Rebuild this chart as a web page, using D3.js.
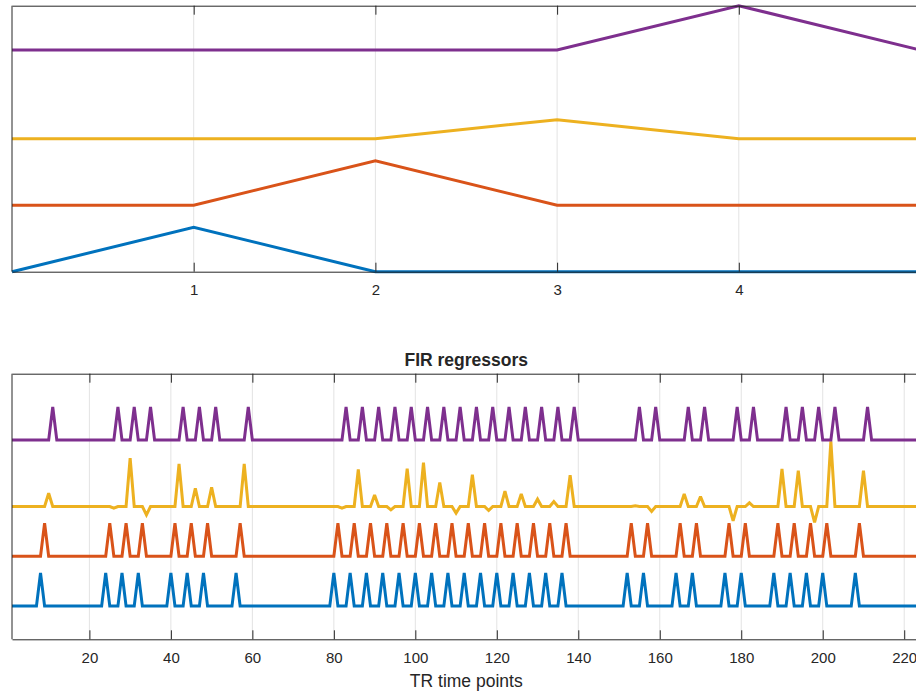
<!DOCTYPE html>
<html>
<head>
<meta charset="utf-8">
<script src="https://cdn.jsdelivr.net/npm/d3@7"></script>
<style>
  html, body { margin: 0; padding: 0; background: #fff; }
  svg { display: block; }
  text { font-family: "Liberation Sans", Arial, Helvetica, sans-serif; fill: #262626; }
</style>
</head>
<body>
<svg id="chart" width="916" height="693"></svg>
<script>
// ---------- DATA ----------
const colors = ["#0072BD", "#D95319", "#EDB120", "#7E2F8E"];
const seriesOffsets = [0, 1.5, 3, 5];

// Top panel: FIR bin estimates
const topX = [0, 1, 2, 3, 4, 5];
const topBlue   = [0, 1, 0, 0, 0, 0];
const topOrange = [0, 0, 1, 0, 0, 0];
const topYellow = [0, 0, 0, 0.43, 0, 0];
const topPurple = [0, 0, 0, 0, 1, 0];
const topTicks = [1, 2, 3, 4];

// Bottom panel: FIR regressors over TR time points (spike onsets)
const nTR = 224;
const blueOnsets = [8, 24, 28, 32, 40, 44, 48, 56,
  80, 84, 88, 92, 96, 100, 104, 108, 112, 116, 120, 124, 128, 132, 136,
  152, 156, 164, 168, 176, 180, 188, 192, 196, 200, 208];
const orangeOnsets = [9, 25, 29, 33, 41, 45, 49, 57,
  81, 85, 89, 93, 97, 101, 105, 109, 113, 117, 121, 125, 129, 133, 137,
  153, 157, 165, 169, 177, 181, 189, 193, 197, 201, 209];
const yellowOnsets = [10, 26, 30, 34, 42, 46, 50, 58,
  82, 86, 90, 94, 98, 102, 106, 110, 114, 118, 122, 126, 130, 134, 138,
  154, 158, 166, 170, 178, 182, 190, 194, 198, 202, 210];
const yellowAmps = [0.4, -0.05, 1.46, -0.25, 1.28, 0.55, 0.58, 1.28,
  -0.05, 1.12, 0.35, -0.1, 1.14, 1.32, 0.72, -0.2, 0.96, -0.12, 0.46, 0.38, 0.22, 0.15, 0.94,
  0.02, -0.15, 0.38, 0.3, -0.43, 0.11, 1.13, 1.08, -0.48, 1.96, 1.08];
const purpleOnsets = [11, 27, 31, 35, 43, 47, 51, 59,
  83, 87, 91, 95, 99, 103, 107, 111, 115, 119, 123, 127, 131, 135, 139,
  155, 159, 167, 171, 179, 183, 191, 195, 199, 203, 211];
const bottomTicks = [20, 40, 60, 80, 100, 120, 140, 160, 180, 200, 220];
const bottomTitle = "FIR regressors";
const bottomXLabel = "TR time points";

// ---------- BUILD ----------
const svg = d3.select("#chart");
svg.append("rect").attr("width", 916).attr("height", 693).attr("fill", "#fff");

const axLeft = 12, axRight = 920.5;

function buildSeries(xs, onsets, amps) {
  const m = new Map(onsets.map((o, i) => [o, amps ? amps[i] : 1]));
  return xs.map(t => m.has(t) ? m.get(t) : 0);
}

function panel(cfg) {
  const x = d3.scaleLinear().domain(cfg.xDomain).range([axLeft, axRight]);
  const y = d3.scaleLinear().domain(cfg.yDomain).range([cfg.bottom, cfg.top]);
  const g = svg.append("g");

  // grid
  g.append("g").selectAll("line").data(cfg.ticks).join("line")
    .attr("x1", d => x(d)).attr("x2", d => x(d))
    .attr("y1", cfg.top).attr("y2", cfg.bottom)
    .attr("stroke", "#e3e3e3").attr("stroke-width", 1);

  // lines
  const line = d3.line().x(d => x(d[0])).y(d => y(d[1]));
  cfg.series.forEach((vals, i) => {
    const pts = cfg.xs.map((t, j) => [t, vals[j] + seriesOffsets[i]]);
    g.append("path").datum(pts)
      .attr("d", line)
      .attr("fill", "none")
      .attr("stroke", colors[i])
      .attr("stroke-width", 3)
      .attr("stroke-linejoin", "miter")
      .attr("stroke-miterlimit", 2.5);
  });

  // bottom axis with inward ticks + labels
  const axB = d3.axisBottom(x).tickValues(cfg.ticks).tickFormat(d3.format("d"))
    .tickSizeInner(-9).tickSizeOuter(0).tickPadding(13);
  const gb = g.append("g").attr("transform", `translate(0,${cfg.bottom})`).call(axB);
  gb.select(".domain").attr("stroke", "#262626");
  gb.selectAll(".tick line").attr("stroke", "#262626");
  gb.selectAll(".tick text").attr("font-size", 15)
    .attr("font-family", "Liberation Sans, Arial, sans-serif").attr("fill", "#262626");

  // top axis with inward ticks, no labels
  const axT = d3.axisTop(x).tickValues(cfg.ticks).tickSizeInner(-9).tickSizeOuter(0).tickFormat("");
  const gt = g.append("g").attr("transform", `translate(0,${cfg.top})`).call(axT);
  gt.select(".domain").attr("stroke", "#262626");
  gt.selectAll(".tick line").attr("stroke", "#262626");

  // left & right border
  g.append("line").attr("x1", axLeft).attr("x2", axLeft)
    .attr("y1", cfg.top).attr("y2", cfg.bottom).attr("stroke", "#262626");
  g.append("line").attr("x1", axRight).attr("x2", axRight)
    .attr("y1", cfg.top).attr("y2", cfg.bottom).attr("stroke", "#262626");

  if (cfg.title) {
    g.append("text").attr("x", (axLeft + axRight) / 2).attr("y", cfg.top - 8)
      .attr("text-anchor", "middle").attr("font-size", 17.5).attr("font-weight", "bold")
      .attr("fill", "#000").text(cfg.title);
  }
  if (cfg.xLabel) {
    g.append("text").attr("x", (axLeft + axRight) / 2).attr("y", 687)
      .attr("text-anchor", "middle").attr("font-size", 17.5).text(cfg.xLabel);
  }
}

panel({
  xDomain: [0, 5], yDomain: [0, 6], top: 5.7, bottom: 271.7,
  ticks: topTicks, xs: topX,
  series: [topBlue, topOrange, topYellow, topPurple]
});

const trX = d3.range(1, nTR + 1);
panel({
  xDomain: [1, nTR], yDomain: [-1, 7], top: 373.7, bottom: 639.3,
  ticks: bottomTicks, xs: trX,
  series: [
    buildSeries(trX, blueOnsets),
    buildSeries(trX, orangeOnsets),
    buildSeries(trX, yellowOnsets, yellowAmps),
    buildSeries(trX, purpleOnsets)
  ],
  title: bottomTitle, xLabel: bottomXLabel
});
</script>
</body>
</html>
